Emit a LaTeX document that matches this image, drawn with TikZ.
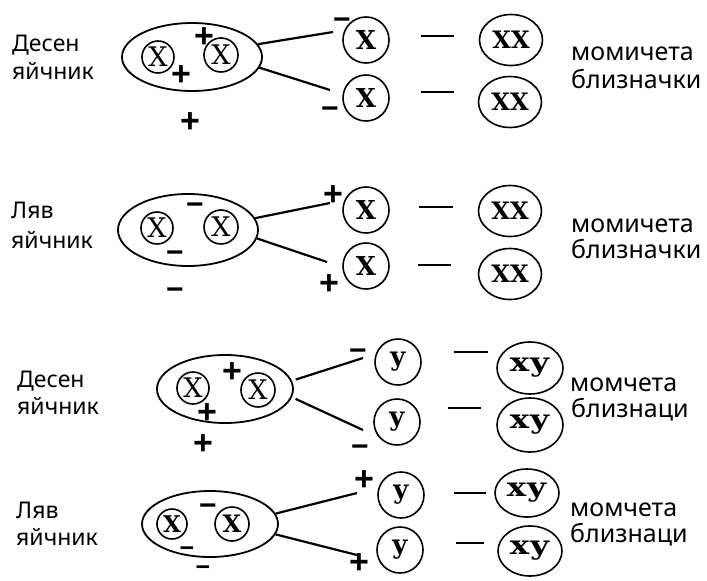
\documentclass[tikz,border=0pt]{standalone}
\usepackage{fontspec}
\setmainfont{Liberation Serif}
\newfontfamily\bgfont[Script=Cyrillic,Language=Bulgarian]{Noto Sans}
\newfontfamily\sgnfont{Liberation Sans}
\newfontfamily\cellfont{DejaVu Serif}
\newfontfamily\widecell[FakeStretch=1.25]{DejaVu Serif}
\usetikzlibrary{shapes.geometric}
\begin{document}
\begin{tikzpicture}[x=1pt,y=-1pt,
  lbl/.style={anchor=base west, inner sep=0pt, font=\bgfont\fontsize{23}{23}\selectfont},
  rlbl/.style={anchor=base west, inner sep=0pt, font=\bgfont\fontsize{25}{25}\selectfont},
  ovary/.style={draw, ellipse, line width=1.8pt, inner sep=0pt},
  incell/.style={draw, circle, line width=1.6pt, inner sep=0pt, font=\cellfont\fontsize{27}{27}\selectfont},
  outcell/.style={draw, circle, line width=1.6pt, inner sep=0pt, minimum size=46pt, font=\cellfont\bfseries\fontsize{26}{26}\selectfont},
  zyg/.style={draw, ellipse, line width=1.6pt, inner sep=0pt, minimum width=63pt, minimum height=51pt, font=\cellfont\bfseries\fontsize{24}{24}\selectfont},
  zygxy/.style={zyg, font=\widecell\bfseries\fontsize{26}{26}\selectfont},
  plus/.style={anchor=base, inner sep=0pt, font=\sgnfont\bfseries\fontsize{34}{34}\selectfont},
  minus/.style={anchor=base, inner sep=0pt, font=\sgnfont\bfseries\fontsize{30}{30}\selectfont},
  sminus/.style={anchor=base, inner sep=0pt, font=\sgnfont\bfseries\fontsize{25}{25}\selectfont},
  link/.style={line width=2.2pt},
  bar/.style={line width=2.4pt}
]
\useasboundingbox (0,0) rectangle (707,581);

% ---------- block 1 ----------
\node[lbl] (t1a) at (12,51) {Десен};
\node[lbl] (t1b) at (12,79) {яйчник};
\node[ovary, minimum width=140pt, minimum height=68pt] (E1) at (192,57) {};
\node[incell, minimum size=32pt] (a1) at (158,57) {X};
\node[incell, minimum size=34pt] (b1) at (221,55) {X};
\node[plus] (p1a) at (204,47) {+};
\node[plus] (p1b) at (181,85) {+};
\node[plus] (p1c) at (190,132) {+};
\node[outcell] (X1u) at (366,40) {X};
\node[outcell] (X1l) at (366,98) {X};
\node[zyg] (Z1u) at (511,40) {XX};
\node[zyg] (Z1l) at (510,102) {XX};
\coordinate (e1u) at (333,32);
\coordinate (e1l) at (330,90);
\draw[link] (E1.11) -- (e1u);
\draw[link] (E1.351) -- (e1l);
\node[minus] (m1a) at (342,29) {−};
\node[minus] (m1b) at (330,118) {−};
\draw[bar] (X1u.east) ++(31,-4) -- ++(33,0);
\draw[bar] (X1l.east) ++(31,-6) -- ++(33,0);
\node[rlbl] (r1a) at (571,60) {момичета};
\node[rlbl] (r1b) at (571,88) {близначки};

% ---------- block 2 ----------
\node[lbl] (t2a) at (11,218) {Ляв};
\node[lbl] (t2b) at (11,248) {яйчник};
\node[ovary, minimum width=140pt, minimum height=72pt] (E2) at (188,230) {};
\node[incell, minimum size=32pt] (a2) at (157,228) {X};
\node[incell, minimum size=34pt] (b2) at (221,227) {X};
\node[minus] (m2a) at (195,214) {−};
\node[minus] (m2b) at (175,262) {−};
\node[minus] (m2c) at (175,299) {−};
\coordinate (e2u) at (330,203);
\coordinate (e2l) at (327,262);
\draw[link] (E2.10) -- (e2u);
\draw[link] (E2.353) -- (e2l);
\node[plus] (p2a) at (333,205) {+};
\node[plus] (p2b) at (329,294) {+};
\node[outcell] (X2u) at (366,210) {X};
\node[outcell] (X2l) at (366,266) {X};
\node[zyg] (Z2u) at (510,211) {XX};
\node[zyg] (Z2l) at (510,274) {XX};
\draw[bar] (X2u.east) ++(29,-3) -- ++(34,0);
\draw[bar] (X2l.east) ++(28,-1) -- ++(33,0);
\node[rlbl] (r2a) at (571,232) {момичета};
\node[rlbl] (r2b) at (571,258) {близначки};

% ---------- block 3 ----------
\node[lbl] (t3a) at (17,387) {Десен};
\node[lbl] (t3b) at (17,414) {яйчник};
\node[ovary, minimum width=136pt, minimum height=68pt] (E3) at (225,389) {};
\node[incell, minimum size=32pt] (a3) at (193,388) {X};
\node[incell, minimum size=34pt] (b3) at (258,390) {X};
\node[plus] (p3a) at (232,382) {+};
\node[plus] (p3b) at (207,423) {+};
\node[plus] (p3c) at (203,454) {+};
\coordinate (e3u) at (363,358);
\coordinate (e3l) at (363,430);
\draw[link, shorten <=4pt] (E3.7) -- (e3u);
\draw[link, shorten <=4pt] (E3.353) -- (e3l);
\node[minus] (m3a) at (358,360) {−};
\node[minus] (m3b) at (360,456) {−};
\node[outcell] (Y3u) at (398,362) {у};
\node[outcell] (Y3l) at (397,422) {у};
\node[zygxy, minimum width=66pt, minimum height=52pt] (Z3u) at (530,368) {ху};
\node[zygxy, minimum width=66pt, minimum height=54pt] (Z3l) at (530,425) {ху};
\draw[bar] (Y3u.east) ++(32,-10) -- ++(34,0);
\draw[bar] (Y3l.east) ++(27,-14) -- ++(33,0);
\node[rlbl] (r3a) at (570,391) {момчета};
\node[rlbl] (r3b) at (571,417) {близнаци};

% ---------- block 4 ----------
\node[lbl] (t4a) at (16,518) {Ляв};
\node[lbl] (t4b) at (16,545) {яйчник};
\node[ovary, minimum width=136pt, minimum height=66pt] (E4) at (210,524) {};
\node[incell, minimum size=30pt, font=\cellfont\bfseries\fontsize{23}{23}\selectfont] (a4) at (172,524) {X};
\node[incell, minimum size=34pt, font=\cellfont\bfseries\fontsize{24}{24}\selectfont] (b4) at (232,524) {X};
\node[minus] (m4a) at (208,515) {−};
\node[sminus] (m4b) at (187,556) {−};
\node[sminus] (m4c) at (203,575) {−};
\coordinate (e4u) at (357,493);
\coordinate (e4l) at (357,555);
\draw[link] (E4.9) -- (e4u);
\draw[link] (E4.351) -- (e4l);
\node[plus] (p4a) at (364,490) {+};
\node[plus] (p4b) at (359,573) {+};
\node[outcell] (Y4u) at (401,495) {у};
\node[outcell] (Y4l) at (400,550) {у};
\node[zygxy, minimum width=64pt, minimum height=48pt] (Z4u) at (527,493) {ху};
\node[zygxy, minimum width=64pt, minimum height=50pt] (Z4l) at (530,551) {ху};
\draw[bar] (Y4u.east) ++(29,-2) -- ++(32,0);
\draw[bar] (Y4l.east) ++(32,-7) -- ++(28,0);
\node[rlbl] (r4a) at (570,516) {момчета};
\node[rlbl] (r4b) at (570,542) {близнаци};
\end{tikzpicture}
\end{document}
